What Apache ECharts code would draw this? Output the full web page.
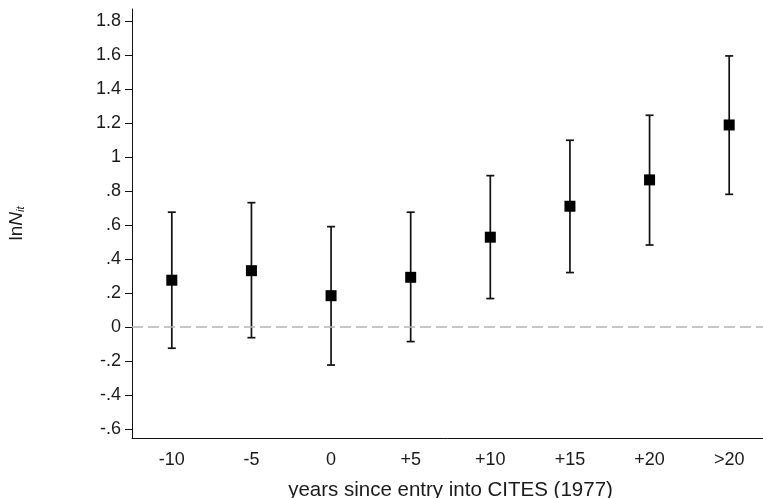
<!DOCTYPE html>
<html>
<head>
<meta charset="utf-8">
<script src="https://cdn.jsdelivr.net/npm/echarts@6/dist/echarts.min.js"></script>
<style>
  html, body { margin: 0; padding: 0; background: #fff; }
  #main { width: 763px; height: 498px; }
</style>
</head>
<body>
<div id="main"></div>
<script>
var periods = ['-10', '-5', '0', '+5', '+10', '+15', '+20', '>20'];
var estimate = [0.275, 0.331, 0.184, 0.292, 0.528, 0.71, 0.865, 1.188];
var ciLow = [-0.125, -0.063, -0.224, -0.086, 0.167, 0.32, 0.482, 0.78];
var ciHigh = [0.675, 0.731, 0.59, 0.675, 0.89, 1.098, 1.245, 1.594];
var yTicks = [-0.6, -0.4, -0.2, 0, 0.2, 0.4, 0.6, 0.8, 1, 1.2, 1.4, 1.6, 1.8];

var chartDom = document.getElementById('main');
var myChart = echarts.init(chartDom);
var option;

function fmtY(v) {
    var s = (Math.round(v * 10) / 10).toString();
    return s.replace(/^0\./, '.').replace(/^-0\./, '-.');
}

var barData = periods.map(function (p, i) {
    return [i, ciLow[i], ciHigh[i]];
});

option = {
    animation: false,
    grid: {
        left: 132,
        top: 9,
        width: 637,
        height: 429,
        outerBoundsMode: 'none',
        containLabel: false
    },
    xAxis: {
        type: 'category',
        data: periods,
        boundaryGap: true,
        name: 'years since entry into CITES (1977)',
        nameLocation: 'middle',
        nameGap: 42,
        nameTextStyle: {
            fontFamily: 'Liberation Sans',
            fontSize: 20.5,
            color: '#1a1a1a'
        },
        axisLine: { onZero: false, lineStyle: { color: '#111', width: 1 } },
        axisTick: { alignWithLabel: true, length: 7, lineStyle: { color: '#111' } },
        axisLabel: {
            fontFamily: 'Liberation Sans',
            fontSize: 18,
            color: '#1a1a1a',
            margin: 13
        },
        splitLine: { show: false }
    },
    yAxis: {
        type: 'value',
        min: -0.653,
        max: 1.87,
        name: '{a|ln}{b|N}{c|it}',
        nameLocation: 'middle',
        nameRotate: 90,
        nameGap: 106,
        nameTextStyle: {
            rich: {
                a: { fontFamily: 'Liberation Sans', fontSize: 19, color: '#1a1a1a' },
                b: { fontFamily: 'Liberation Sans', fontSize: 19, fontStyle: 'italic', color: '#1a1a1a' },
                c: { fontFamily: 'Liberation Sans', fontSize: 11, fontStyle: 'italic', color: '#1a1a1a', verticalAlign: 'bottom', padding: [7, 0, 0, 0] }
            }
        },
        axisLine: { show: true, onZero: false, lineStyle: { color: '#111', width: 1 } },
        axisTick: { show: true, length: 7, customValues: yTicks, lineStyle: { color: '#111' } },
        axisLabel: {
            customValues: yTicks,
            fontFamily: 'Liberation Sans',
            fontSize: 18,
            color: '#1a1a1a',
            margin: 11,
            formatter: fmtY
        },
        splitLine: { show: false }
    },
    series: [
        {
            type: 'custom',
            data: barData,
            renderItem: function (params, api) {
                var x = api.coord([api.value(0), api.value(1)])[0];
                var yLo = api.coord([api.value(0), api.value(1)])[1];
                var yHi = api.coord([api.value(0), api.value(2)])[1];
                var cap = 4;
                var style = { stroke: '#111', lineWidth: 1.7 };
                return {
                    type: 'group',
                    children: [
                        { type: 'line', shape: { x1: x, y1: yLo, x2: x, y2: yHi }, style: style },
                        { type: 'line', shape: { x1: x - cap, y1: yLo, x2: x + cap, y2: yLo }, style: style },
                        { type: 'line', shape: { x1: x - cap, y1: yHi, x2: x + cap, y2: yHi }, style: style }
                    ]
                };
            },
            z: 2
        },
        {
            type: 'scatter',
            data: estimate,
            symbol: 'rect',
            symbolSize: 11,
            itemStyle: { color: '#000', opacity: 1 },
            z: 3,
            markLine: {
                silent: true,
                symbol: 'none',
                label: { show: false },
                lineStyle: { color: '#b4b4b4', width: 1.6, type: [11, 5] },
                data: [{ yAxis: 0 }]
            }
        }
    ]
};

option && myChart.setOption(option);
</script>
</body>
</html>
